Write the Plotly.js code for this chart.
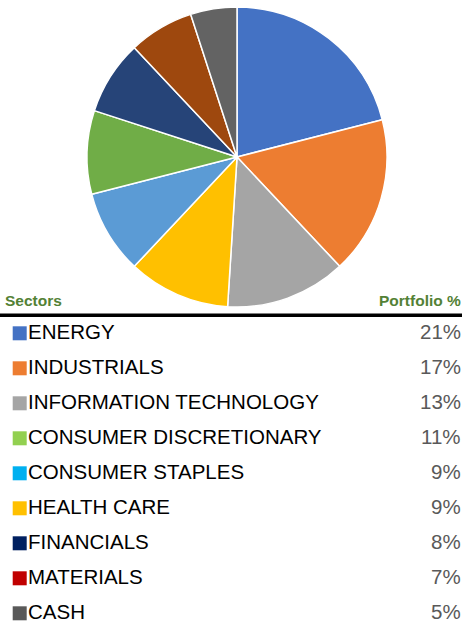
<!DOCTYPE html>
<html>
<head>
<meta charset="utf-8">
<script src="https://cdn.plot.ly/plotly-3.0.1.min.js"></script>
<style>html,body{margin:0;padding:0;background:#fff;}#chart{width:464px;height:625px;}</style>
</head>
<body>
<div id="chart"></div>
<script>
var sectors = ["ENERGY", "INDUSTRIALS", "INFORMATION TECHNOLOGY", "CONSUMER DISCRETIONARY", "CONSUMER STAPLES", "HEALTH CARE", "FINANCIALS", "MATERIALS", "CASH"];
var weights = [21, 17, 13, 11, 9, 9, 8, 7, 5];
var pctLabels = ["21%", "17%", "13%", "11%", "9%", "9%", "8%", "7%", "5%"];
var pieColors = ["#4472C4", "#ED7D31", "#A5A5A5", "#FFC000", "#5B9BD5", "#70AD47", "#264478", "#9E480E", "#636363"];
var tableColors = ["#4472C4", "#ED7D31", "#A5A5A5", "#92D050", "#00B0F0", "#FFC000", "#002060", "#C00000", "#595959"];
var headerLeft = "Sectors";
var headerRight = "Portfolio %";

var W = 464, H = 625;
var FONT = "Liberation Sans, Arial, sans-serif";
var rowIdx = sectors.map(function(_, i){ return i; });

// y axis in row units: row 0 at px 333.3, spacing 35.0 px
var row0 = 333.3, step = 35.0;
var yTop = (0 - row0) / step, yBot = (H - row0) / step;

var pie = {
  type: "pie",
  labels: sectors,
  values: weights,
  sort: false,
  direction: "clockwise",
  rotation: 0,
  marker: {colors: pieColors, line: {color: "#ffffff", width: 1.5}},
  textinfo: "none",
  hoverinfo: "label+percent",
  domain: {x: [10 / W, 1], y: [1 - 307 / H, 1 - 7 / H]},
  showlegend: false
};

var squares = {
  type: "scatter",
  mode: "markers",
  x: rowIdx.map(function(){ return 19.7; }),
  y: rowIdx,
  marker: {symbol: "square", size: 14, color: tableColors, line: {width: 0}},
  xaxis: "x", yaxis: "y",
  showlegend: false,
  hoverinfo: "skip"
};

var annotations = [];
sectors.forEach(function(s, i){
  annotations.push({x: 27.5, y: i - 0.04, xref: "x", yref: "y", text: s, showarrow: false, borderpad: 0, borderwidth: 0,
    xanchor: "left", yanchor: "middle", font: {family: FONT, size: 20.5, color: "#000000"}});
  annotations.push({x: 460.5, y: i - 0.04, xref: "x", yref: "y", text: pctLabels[i], showarrow: false, borderpad: 0, borderwidth: 0,
    xanchor: "right", yanchor: "middle", font: {family: FONT, size: 20.5, color: "#595959"}});
});
annotations.push({x: 5, y: (300.5 - row0) / step, xref: "x", yref: "y", text: "<b>" + headerLeft + "</b>", showarrow: false, borderpad: 0, borderwidth: 0,
  xanchor: "left", yanchor: "middle", font: {family: FONT, size: 15.5, color: "#538135"}});
annotations.push({x: 460.5, y: (300.5 - row0) / step, xref: "x", yref: "y", text: "<b>" + headerRight + "</b>", showarrow: false, borderpad: 0, borderwidth: 0,
  xanchor: "right", yanchor: "middle", font: {family: FONT, size: 15.5, color: "#538135"}});

var layout = {
  width: W, height: H,
  margin: {l: 0, r: 0, t: 0, b: 0},
  paper_bgcolor: "#ffffff",
  plot_bgcolor: "rgba(0,0,0,0)",
  showlegend: false,
  xaxis: {domain: [0, 1], range: [0, W], visible: false, fixedrange: true},
  yaxis: {domain: [0, 1], range: [yBot, yTop], visible: false, fixedrange: true},
  shapes: [{type: "line", xref: "x", yref: "y", x0: 0, x1: 462, y0: (315.2 - row0) / step, y1: (315.2 - row0) / step,
    line: {color: "#000000", width: 3.5}}],
  annotations: annotations
};

Plotly.newPlot("chart", [pie, squares], layout, {displayModeBar: false, staticPlot: true});
</script>
</body>
</html>
